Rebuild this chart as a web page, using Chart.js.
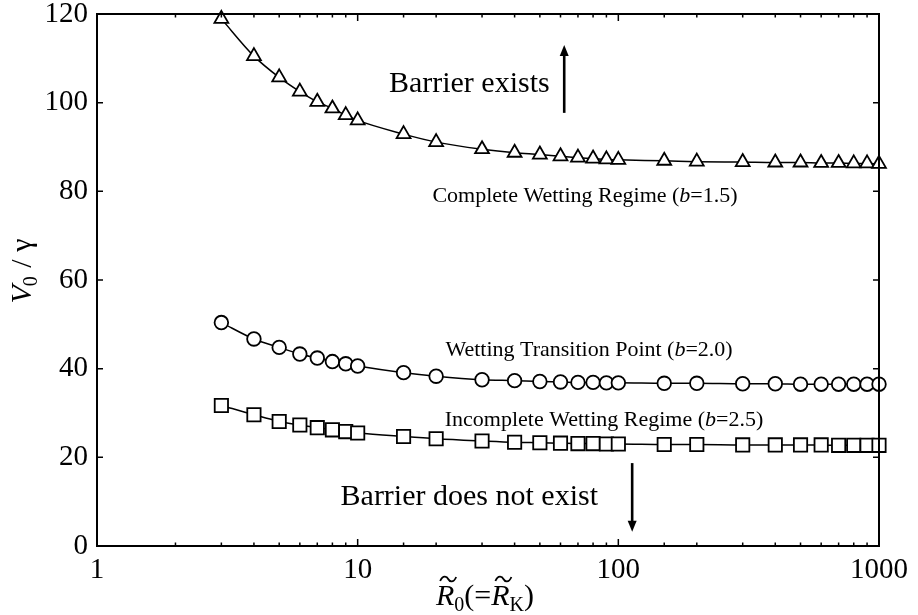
<!DOCTYPE html>
<html>
<head>
<meta charset="utf-8">
<script src="https://cdn.jsdelivr.net/npm/chart.js@4.4.1/dist/chart.umd.min.js"></script>
<style>
  html, body { margin: 0; padding: 0; background: #fff; }
</style>
</head>
<body>
<canvas id="chart" width="918" height="615"></canvas>
<script>
// Data
const radii = [3, 4, 5, 6, 7, 8, 9, 10, 15, 20, 30, 40, 50, 60, 70, 80, 90, 100,
  150, 200, 300, 400, 500, 600, 700, 800, 900, 1000];
const completeWetting = [118.9, 110.5, 105.7, 102.5, 100.2, 98.7, 97.2, 96.0, 92.9, 91.1,
  89.5, 88.7, 88.3, 87.9, 87.6, 87.4, 87.2, 87.1, 86.9, 86.7, 86.6, 86.5, 86.5, 86.4,
  86.4, 86.3, 86.3, 86.2];
const transitionPoint = [50.4, 46.7, 44.8, 43.3, 42.4, 41.6, 41.1, 40.6, 39.1, 38.3,
  37.5, 37.3, 37.1, 37.0, 36.9, 36.9, 36.8, 36.8, 36.7, 36.7, 36.6, 36.6, 36.5, 36.5,
  36.5, 36.5, 36.5, 36.5];
const incompleteWetting = [31.7, 29.6, 28.1, 27.3, 26.7, 26.2, 25.8, 25.5, 24.7, 24.2,
  23.7, 23.4, 23.3, 23.2, 23.1, 23.1, 23.0, 23.0, 22.9, 22.9, 22.8, 22.8, 22.8, 22.8,
  22.7, 22.7, 22.7, 22.7];
const xTickLabels = [1, 10, 100, 1000];
const yTicks = [0, 20, 40, 60, 80, 100, 120];

// annotations: [text, italic] parts, anchored in data coordinates
const notes = [
  { parts: [["Barrier exists", false]], x: 26.8, y: 104.6, size: 30 },
  { parts: [["Barrier does not exist", false]], x: 26.8, y: 11.5, size: 30 },
  { parts: [["Complete Wetting Regime (", false], ["b", true], ["=1.5)", false]], x: 74.5, y: 79.3, size: 22 },
  { parts: [["Wetting Transition Point (", false], ["b", true], ["=2.0)", false]], x: 77.2, y: 44.6, size: 22 },
  { parts: [["Incomplete Wetting Regime (", false], ["b", true], ["=2.5)", false]], x: 88.1, y: 28.6, size: 22 }
];
const arrows = [
  { x: 62, from: 97.7, to: 113 },
  { x: 113, from: 18.7, to: 3.2 }
];

const SERIF = '"Liberation Serif", "Times New Roman", serif';
function font(size, italic) {
  return (italic ? "italic " : "") + size + "px " + SERIF;
}

function drawParts(ctx, parts, cx, baseline, size) {
  let total = 0;
  const widths = parts.map(([t, it]) => {
    ctx.font = font(size, it);
    const w = ctx.measureText(t).width;
    total += w;
    return w;
  });
  let x = cx - total / 2;
  ctx.textAlign = "left";
  ctx.textBaseline = "alphabetic";
  parts.forEach(([t, it], i) => {
    ctx.font = font(size, it);
    ctx.fillText(t, x, baseline);
    x += widths[i];
  });
}

function tilde(ctx, cx, cy) {
  ctx.save();
  ctx.lineWidth = 1.8;
  ctx.beginPath();
  ctx.moveTo(cx - 8, cy + 2);
  ctx.bezierCurveTo(cx - 5, cy - 5, cx - 1, cy - 2, cx, cy);
  ctx.bezierCurveTo(cx + 1, cy + 2, cx + 5, cy + 5, cx + 8, cy - 2);
  ctx.stroke();
  ctx.restore();
}

const framePlugin = {
  id: "frame",
  afterDraw(chart) {
    const { ctx, chartArea: a, scales } = chart;
    const xs = scales.x, ys = scales.y;
    ctx.save();
    ctx.strokeStyle = "#000";
    ctx.fillStyle = "#000";

    // frame
    ctx.lineWidth = 2;
    ctx.strokeRect(a.left, a.top, a.right - a.left, a.bottom - a.top);

    // inward ticks on x (bottom and top)
    ctx.lineWidth = 1.5;
    xs.ticks.forEach((t) => {
      const px = xs.getPixelForValue(t.value);
      const len = xTickLabels.includes(t.value) ? 7 : 3.5;
      ctx.beginPath();
      ctx.moveTo(px, a.bottom);
      ctx.lineTo(px, a.bottom - len);
      ctx.moveTo(px, a.top);
      ctx.lineTo(px, a.top + len);
      ctx.stroke();
    });
    // inward ticks on y (left and right)
    yTicks.forEach((v) => {
      const py = ys.getPixelForValue(v);
      ctx.beginPath();
      ctx.moveTo(a.left, py);
      ctx.lineTo(a.left + 6, py);
      ctx.moveTo(a.right, py);
      ctx.lineTo(a.right - 6, py);
      ctx.stroke();
    });

    // text notes
    notes.forEach((n) => {
      const cx = xs.getPixelForValue(n.x);
      const cy = ys.getPixelForValue(n.y);
      drawParts(ctx, n.parts, cx, cy + n.size * 0.33, n.size);
    });

    // arrows
    arrows.forEach((ar) => {
      const px = xs.getPixelForValue(ar.x);
      const y0 = ys.getPixelForValue(ar.from);
      const y1 = ys.getPixelForValue(ar.to);
      const dir = y1 < y0 ? -1 : 1;
      ctx.lineWidth = 2.6;
      ctx.beginPath();
      ctx.moveTo(px, y0);
      ctx.lineTo(px, y1 - dir * 10);
      ctx.stroke();
      ctx.beginPath();
      ctx.moveTo(px, y1);
      ctx.lineTo(px - 4.5, y1 - dir * 11);
      ctx.lineTo(px + 4.5, y1 - dir * 11);
      ctx.closePath();
      ctx.fill();
    });

    // y axis title: V0 / γ (rotated)
    ctx.save();
    ctx.translate(31, 271);
    ctx.rotate(-Math.PI / 2);
    ctx.textBaseline = "alphabetic";
    ctx.font = font(30, true);
    const wV = ctx.measureText("V").width;
    ctx.font = font(20, false);
    const w0 = ctx.measureText("0").width;
    ctx.font = font(30, false);
    const wRest = ctx.measureText(" / \u03b3").width;
    let x = -(wV + w0 + wRest) / 2;
    ctx.textAlign = "left";
    ctx.font = font(30, true);
    ctx.fillText("V", x, 0);
    x += wV;
    ctx.font = font(20, false);
    ctx.fillText("0", x - 1, 6);
    x += w0;
    ctx.font = font(30, false);
    ctx.fillText(" / \u03b3", x, 0);
    ctx.restore();

    // x axis title: R~0(=R~K)
    const base = 605;
    const segs = [["R", 30, true, 0], ["0", 20, false, 6], ["(=", 30, false, 0],
      ["R", 30, true, 0], ["K", 20, false, 6], [")", 30, false, 0]];
    let tw = 0;
    const ws = segs.map(([t, s, it]) => {
      ctx.font = font(s, it);
      const w = ctx.measureText(t).width;
      tw += w;
      return w;
    });
    let sx = 485 - tw / 2;
    ctx.textAlign = "left";
    segs.forEach(([t, s, it, dy], i) => {
      ctx.font = font(s, it);
      ctx.fillText(t, sx, base + dy);
      if (t === "R") tilde(ctx, sx + ws[i] / 2 + 3, base - 26);
      sx += ws[i];
    });

    ctx.restore();
  }
};

function series(values, style, radius) {
  return {
    data: radii.map((r, i) => ({ x: r, y: values[i] })),
    borderColor: "#000",
    borderWidth: 1.5,
    pointStyle: style,
    pointRadius: radius,
    pointHoverRadius: radius,
    pointBackgroundColor: "#fff",
    pointBorderColor: "#000",
    pointBorderWidth: 1.8,
    cubicInterpolationMode: "monotone",
    fill: false,
    clip: false
  };
}

function noPad(scale) {
  scale.paddingLeft = 0;
  scale.paddingRight = 0;
  scale.paddingTop = 0;
  scale.paddingBottom = 0;
}

new Chart(document.getElementById("chart"), {
  type: "line",
  data: {
    datasets: [
      series(completeWetting, "triangle", 8),
      series(transitionPoint, "circle", 6.8),
      series(incompleteWetting, "rect", 9.4)
    ]
  },
  options: {
    responsive: false,
    animation: false,
    layout: { padding: { left: 0, top: 14, right: 39, bottom: 0 } },
    plugins: { legend: { display: false }, tooltip: { enabled: false } },
    scales: {
      x: {
        type: "logarithmic",
        min: 1,
        max: 1000,
        grid: { display: false, drawTicks: false },
        border: { display: false },
        ticks: {
          autoSkip: false,
          maxRotation: 0,
          padding: 7,
          color: "#000",
          font: { family: SERIF, size: 29 },
          callback: (v) => (xTickLabels.includes(v) ? String(v) : "")
        },
        afterFit: (s) => { s.height = 69; noPad(s); }
      },
      y: {
        min: 0,
        max: 120,
        grid: { display: false, drawTicks: false },
        border: { display: false },
        ticks: {
          stepSize: 20,
          padding: 9,
          color: "#000",
          font: { family: SERIF, size: 29 }
        },
        afterFit: (s) => { s.width = 97; noPad(s); }
      }
    }
  },
  plugins: [framePlugin]
});
</script>
</body>
</html>
